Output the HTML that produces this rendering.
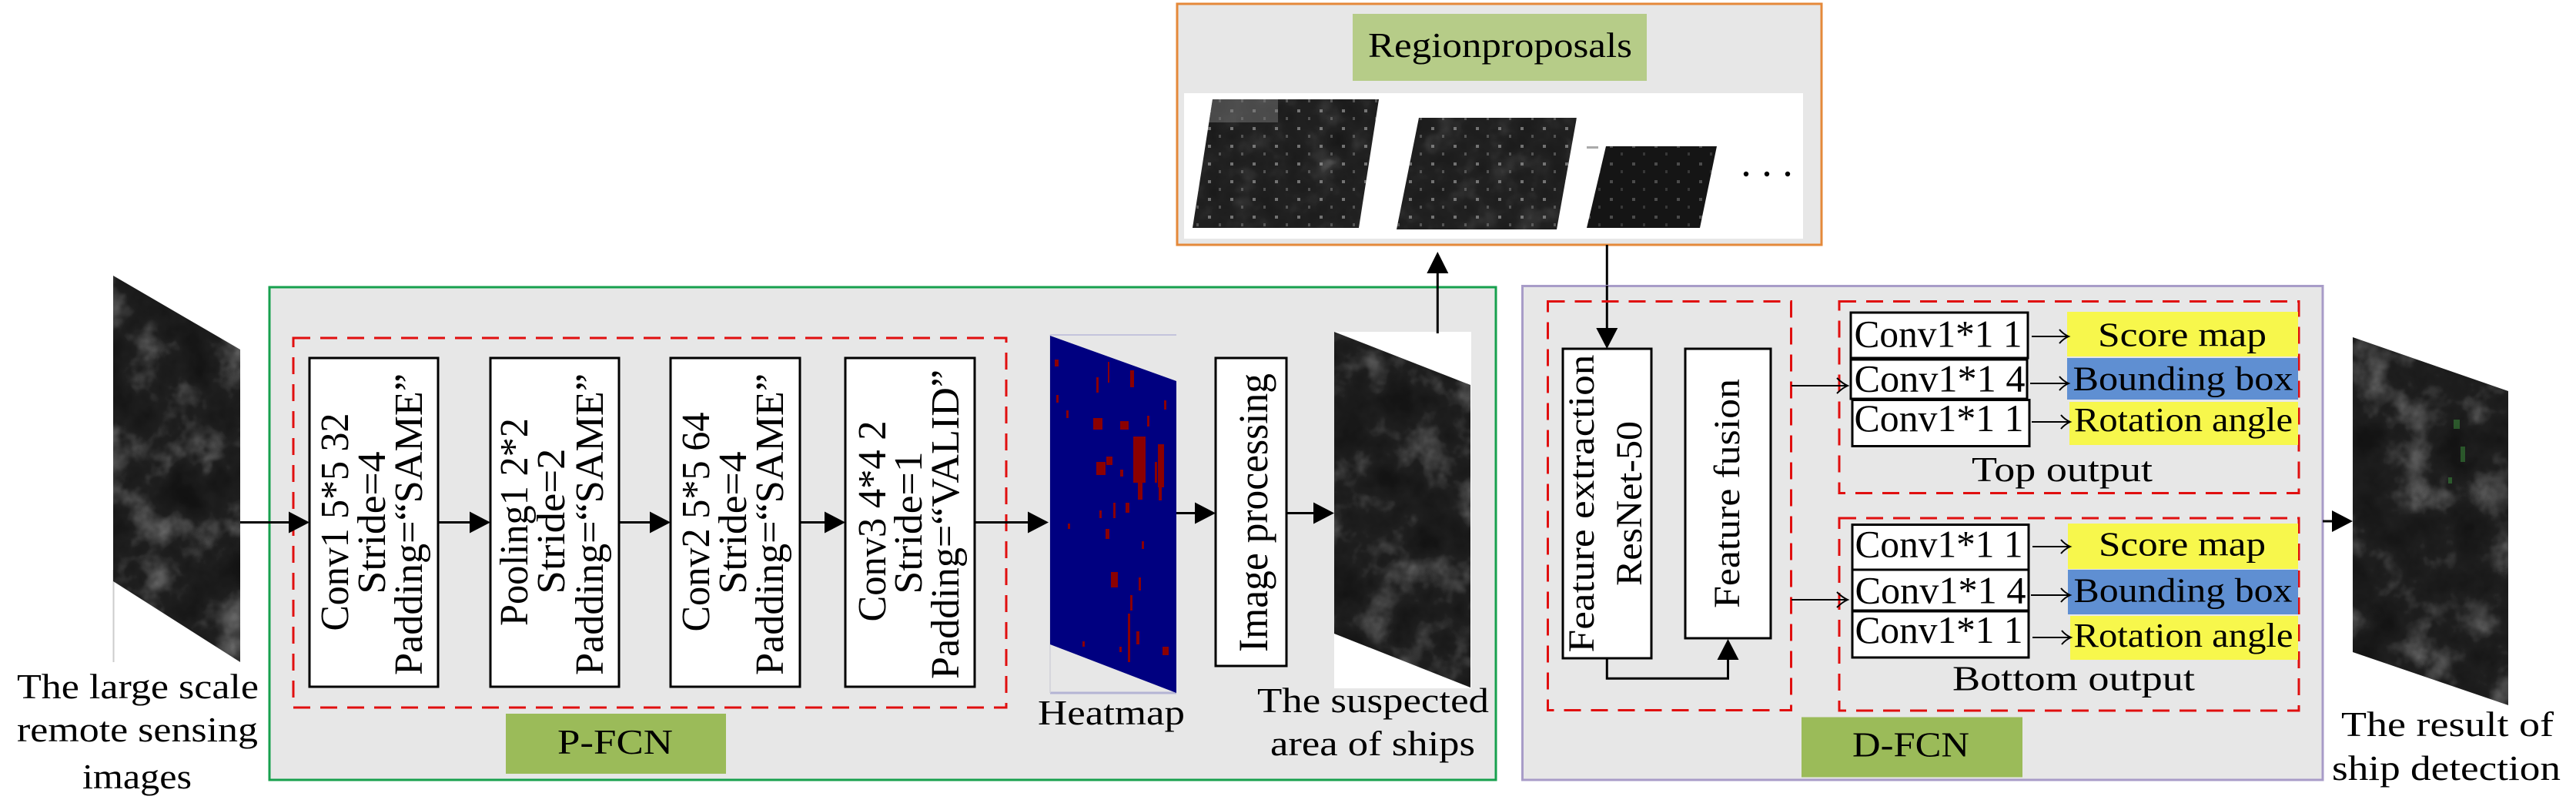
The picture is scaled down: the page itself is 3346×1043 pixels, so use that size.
<!DOCTYPE html>
<html><head><meta charset="utf-8"><style>
html,body{margin:0;padding:0;background:#fff;}
svg{display:block;}
text{font-family:"Liberation Serif",serif;fill:#000;}
</style></head><body>
<svg width="3346" height="1043" viewBox="0 0 3346 1043" xmlns="http://www.w3.org/2000/svg">
<defs>
<filter id="sat" x="0" y="0" width="1" height="1" color-interpolation-filters="sRGB">
<feTurbulence type="fractalNoise" baseFrequency="0.018" numOctaves="4" seed="7"/>
<feColorMatrix type="matrix" values="0.33 0.33 0.33 0 0  0.33 0.33 0.33 0 0  0.33 0.33 0.33 0 0  0 0 0 0 1"/>
<feComponentTransfer>
<feFuncR type="table" tableValues="0.04 0.06 0.08 0.12 0.36 0.66 0.88"/>
<feFuncG type="table" tableValues="0.04 0.06 0.08 0.12 0.36 0.66 0.88"/>
<feFuncB type="table" tableValues="0.04 0.06 0.08 0.12 0.36 0.66 0.88"/>
</feComponentTransfer>
</filter>
<filter id="sat2" x="0" y="0" width="1" height="1" color-interpolation-filters="sRGB">
<feTurbulence type="fractalNoise" baseFrequency="0.03" numOctaves="3" seed="3"/>
<feColorMatrix type="matrix" values="0.33 0.33 0.33 0 0  0.33 0.33 0.33 0 0  0.33 0.33 0.33 0 0  0 0 0 0 1"/>
<feComponentTransfer>
<feFuncR type="table" tableValues="0.07 0.09 0.11 0.13 0.2 0.45 0.7"/>
<feFuncG type="table" tableValues="0.07 0.09 0.11 0.13 0.2 0.45 0.7"/>
<feFuncB type="table" tableValues="0.07 0.09 0.11 0.13 0.2 0.45 0.7"/>
</feComponentTransfer>
</filter>
<pattern id="dots" x="0" y="0" width="29" height="23" patternUnits="userSpaceOnUse">
<rect x="3" y="4" width="4" height="4" fill="#aaa" opacity="0.6"/>
<rect x="17" y="14" width="3" height="4" fill="#888" opacity="0.5"/>
</pattern>
<clipPath id="cL"><polygon points="147,358 312,454 312,860 147,755"/></clipPath>
<clipPath id="cS"><polygon points="1733,431 1910,500 1910,893 1733,823"/></clipPath>
<clipPath id="cR"><polygon points="3056,438 3258,508 3258,916 3056,847"/></clipPath>
<clipPath id="c1"><polygon points="1575,129 1791,129 1765,296 1549,296"/></clipPath>
<clipPath id="c2"><polygon points="1843,153 2048,153 2022,298 1814,298"/></clipPath>
<clipPath id="c3"><polygon points="2086,190 2230,190 2208,296 2061,296"/></clipPath>
</defs>

<!-- Left input image -->
<line x1="147.5" y1="740" x2="147.5" y2="860" stroke="#ccc" stroke-width="2"/>
<rect x="147" y="358" width="166" height="502" filter="url(#sat)" clip-path="url(#cL)"/>
<text x="22" y="907" font-size="46" textLength="314" lengthAdjust="spacingAndGlyphs">The large scale</text>
<text x="22" y="963" font-size="46" textLength="313" lengthAdjust="spacingAndGlyphs">remote sensing</text>
<text x="107" y="1024" font-size="46" textLength="142" lengthAdjust="spacingAndGlyphs">images</text>

<!-- Region proposals -->
<rect x="1529" y="5" width="837" height="313" fill="#e7e7e7" stroke="#e5893a" stroke-width="3"/>
<rect x="1757" y="18" width="382" height="87" fill="#b6cc88"/>
<text x="1777" y="74" font-size="46" textLength="343" lengthAdjust="spacingAndGlyphs">Regionproposals</text>
<rect x="1538" y="121" width="804" height="189" fill="#fff"/>
<g clip-path="url(#c1)"><rect x="1549" y="129" width="242" height="167" filter="url(#sat2)"/><rect x="1549" y="129" width="242" height="167" fill="url(#dots)"/><rect x="1560" y="129" width="100" height="30" fill="#777" opacity="0.5"/></g>
<g clip-path="url(#c2)"><rect x="1814" y="153" width="234" height="145" filter="url(#sat2)"/><rect x="1814" y="153" width="234" height="145" fill="url(#dots)"/></g>
<g clip-path="url(#c3)"><rect x="2061" y="190" width="169" height="106" fill="#151515"/><rect x="2061" y="190" width="169" height="106" fill="url(#dots)" opacity="0.6"/></g>
<rect x="2061" y="190" width="15" height="3" fill="#aaa"/>
<circle cx="2268" cy="226" r="3.2" fill="#000"/>
<circle cx="2295" cy="226" r="3.2" fill="#000"/>
<circle cx="2322" cy="226" r="3.2" fill="#000"/>

<!-- P-FCN container -->
<rect x="350" y="373" width="1593" height="640" fill="#e7e7e7" stroke="#17a04e" stroke-width="3"/>
<rect x="381" y="439" width="926" height="480" fill="none" stroke="#e00f0f" stroke-width="3" stroke-dasharray="22 13"/>

<!-- Conv boxes -->
<g stroke="#000" stroke-width="3" fill="#fff">
<rect x="402" y="465" width="167" height="427"/>
<rect x="637" y="465" width="167" height="427"/>
<rect x="871" y="465" width="168" height="427"/>
<rect x="1098" y="465" width="168" height="427"/>
<rect x="1579" y="465" width="92" height="400"/>
</g>
<g font-size="52">
<text transform="translate(452,678) rotate(-90)" text-anchor="middle" textLength="283" lengthAdjust="spacingAndGlyphs">Conv1 5*5 32</text>
<text transform="translate(500,679) rotate(-90)" text-anchor="middle" textLength="185" lengthAdjust="spacingAndGlyphs">Stride=4</text>
<text transform="translate(548,681) rotate(-90)" text-anchor="middle" textLength="392" lengthAdjust="spacingAndGlyphs">Padding=“SAME”</text>

<text transform="translate(685,678) rotate(-90)" text-anchor="middle" textLength="270" lengthAdjust="spacingAndGlyphs">Pooling1 2*2</text>
<text transform="translate(733,677) rotate(-90)" text-anchor="middle" textLength="189" lengthAdjust="spacingAndGlyphs">Stride=2</text>
<text transform="translate(783,681) rotate(-90)" text-anchor="middle" textLength="392" lengthAdjust="spacingAndGlyphs">Padding=“SAME”</text>

<text transform="translate(921,678) rotate(-90)" text-anchor="middle" textLength="285" lengthAdjust="spacingAndGlyphs">Conv2 5*5 64</text>
<text transform="translate(969,679) rotate(-90)" text-anchor="middle" textLength="185" lengthAdjust="spacingAndGlyphs">Stride=4</text>
<text transform="translate(1017,681) rotate(-90)" text-anchor="middle" textLength="392" lengthAdjust="spacingAndGlyphs">Padding=“SAME”</text>

<text transform="translate(1150,677) rotate(-90)" text-anchor="middle" textLength="261" lengthAdjust="spacingAndGlyphs">Conv3 4*4 2</text>
<text transform="translate(1197,679) rotate(-90)" text-anchor="middle" textLength="185" lengthAdjust="spacingAndGlyphs">Stride=1</text>
<text transform="translate(1245,681) rotate(-90)" text-anchor="middle" textLength="402" lengthAdjust="spacingAndGlyphs">Padding=“VALID”</text>
</g>
<text transform="translate(1646,666) rotate(-90)" text-anchor="middle" font-size="54" textLength="362" lengthAdjust="spacingAndGlyphs">Image processing</text>

<!-- Heatmap -->
<line x1="1364" y1="435" x2="1528" y2="435" stroke="#c4c4dc" stroke-width="2"/>
<line x1="1364" y1="900" x2="1528" y2="900" stroke="#b4b4d4" stroke-width="3"/>
<line x1="1364" y1="435" x2="1364" y2="900" stroke="#d0d0d8" stroke-width="1.5"/>
<polygon points="1364,436 1528,495 1528,900 1364,837" fill="#000080"/>
<g fill="#8b0000">
<rect x="1472" y="567" width="16" height="60"/><rect x="1478" y="627" width="6" height="22"/>
<rect x="1504" y="577" width="8" height="56"/><rect x="1505" y="633" width="4" height="17"/>
<rect x="1443" y="743" width="9" height="20"/><rect x="1468" y="773" width="3" height="20"/>
<rect x="1370" y="467" width="5" height="9"/><rect x="1424" y="490" width="3" height="20"/>
<rect x="1439" y="470" width="2" height="27"/><rect x="1468" y="481" width="5" height="22"/>
<rect x="1420" y="543" width="12" height="15"/><rect x="1455" y="547" width="11" height="11"/>
<rect x="1424" y="600" width="12" height="17"/><rect x="1437" y="593" width="8" height="11"/>
<rect x="1428" y="663" width="3" height="10"/><rect x="1436" y="687" width="5" height="13"/>
<rect x="1483" y="703" width="3" height="10"/><rect x="1462" y="653" width="5" height="13"/>
<rect x="1387" y="680" width="3" height="7"/><rect x="1465" y="797" width="3" height="63"/>
<rect x="1476" y="820" width="4" height="17"/><rect x="1510" y="840" width="8" height="11"/>
<rect x="1454" y="840" width="3" height="7"/><rect x="1500" y="600" width="3" height="27"/>
<rect x="1446" y="653" width="3" height="20"/><rect x="1372" y="513" width="3" height="10"/>
<rect x="1385" y="533" width="3" height="10"/><rect x="1479" y="750" width="3" height="17"/>
<rect x="1406" y="833" width="3" height="7"/><rect x="1490" y="540" width="3" height="14"/>
<rect x="1455" y="610" width="4" height="9"/><rect x="1512" y="520" width="3" height="12"/>
</g>
<text x="1348" y="941" font-size="46" textLength="191" lengthAdjust="spacingAndGlyphs">Heatmap</text>

<!-- Suspected area -->
<rect x="1733" y="431" width="178" height="463" fill="#fff"/>
<rect x="1733" y="431" width="178" height="463" filter="url(#sat)" clip-path="url(#cS)"/>
<text x="1633" y="925" font-size="46" textLength="301" lengthAdjust="spacingAndGlyphs">The suspected</text>
<text x="1650" y="981" font-size="46" textLength="266" lengthAdjust="spacingAndGlyphs">area of ships</text>

<rect x="657" y="927" width="286" height="78" fill="#9bbb59"/>
<text x="724" y="979" font-size="46" textLength="150" lengthAdjust="spacingAndGlyphs">P-FCN</text>

<!-- P-FCN arrows -->
<g stroke="#000" stroke-width="3" fill="none">
<line x1="312" y1="678.5" x2="380" y2="678.5"/>
<line x1="569" y1="678.5" x2="612" y2="678.5"/>
<line x1="804" y1="678.5" x2="846" y2="678.5"/>
<line x1="1039" y1="678.5" x2="1073" y2="678.5"/>
<line x1="1266" y1="678.5" x2="1336" y2="678.5"/>
<line x1="1528" y1="666.5" x2="1554" y2="666.5"/>
<line x1="1671" y1="666.5" x2="1708" y2="666.5"/>
<line x1="1867.3" y1="433" x2="1867.3" y2="352"/>
<line x1="2087.3" y1="318" x2="2087.3" y2="428"/>
</g>
<g fill="#000">
<polygon points="375,664.5 402,678.5 375,692.5"/>
<polygon points="610,664.5 637,678.5 610,692.5"/>
<polygon points="844,664.5 871,678.5 844,692.5"/>
<polygon points="1071,664.5 1098,678.5 1071,692.5"/>
<polygon points="1335,664.5 1362,678.5 1335,692.5"/>
<polygon points="1552,652.5 1579,666.5 1552,680.5"/>
<polygon points="1706,652.5 1733,666.5 1706,680.5"/>
<polygon points="1853.3,355 1867.3,327 1881.3,355"/>
</g>

<!-- D-FCN container -->
<rect x="1977.5" y="371.5" width="1039.5" height="641.5" fill="#e7e7e7" stroke="#a89cc8" stroke-width="3"/>
<line x1="2087.3" y1="371" x2="2087.3" y2="428" stroke="#000" stroke-width="3"/>
<rect x="2010.5" y="391.5" width="316" height="531" fill="none" stroke="#e00f0f" stroke-width="3" stroke-dasharray="22 13"/>
<rect x="2389" y="391.5" width="597" height="249" fill="none" stroke="#e00f0f" stroke-width="3" stroke-dasharray="22 13"/>
<rect x="2389" y="673" width="597" height="250" fill="none" stroke="#e00f0f" stroke-width="3" stroke-dasharray="22 13"/>

<g stroke="#000" stroke-width="3" fill="#fff">
<rect x="2030" y="453" width="115" height="402"/>
<rect x="2189" y="453" width="111" height="376"/>
</g>
<path d="M2087.3 855.5 V881.3 H2244.5 V855" stroke="#000" stroke-width="3" fill="none"/>
<polygon points="2073.3,426 2087.3,453 2101.3,426" fill="#000"/>
<polygon points="2230.5,857 2244.5,830 2258.5,857" fill="#000"/>
<g font-size="48">
<text transform="translate(2070,654) rotate(-90)" text-anchor="middle" textLength="387" lengthAdjust="spacingAndGlyphs">Feature extraction</text>
<text transform="translate(2132,654) rotate(-90)" text-anchor="middle" textLength="214" lengthAdjust="spacingAndGlyphs">ResNet-50</text>
<text transform="translate(2259,641) rotate(-90)" text-anchor="middle" textLength="298" lengthAdjust="spacingAndGlyphs">Feature fusion</text>
</g>

<!-- thin arrows into outputs -->
<g stroke="#000" stroke-width="2" fill="none">
<line x1="2327" y1="501" x2="2399" y2="501"/>
<path d="M2386 491 Q2393 498 2400 501 Q2393 504 2386 511"/>
<line x1="2327" y1="779" x2="2399" y2="779"/>
<path d="M2386 769 Q2393 776 2400 779 Q2393 782 2386 789"/>
</g>

<!-- Output label bars -->
<rect x="2685" y="405" width="300" height="58" fill="#f7f74c"/>
<rect x="2685" y="465" width="300" height="54" fill="#5f8fd2"/>
<rect x="2688" y="522" width="297" height="56" fill="#f7f74c"/>
<rect x="2686" y="680" width="299" height="59" fill="#f7f74c"/>
<rect x="2686" y="740" width="299" height="58" fill="#5f8fd2"/>
<rect x="2689" y="800" width="296" height="57" fill="#f7f74c"/>

<g stroke="#000" stroke-width="3" fill="#fff">
<rect x="2404" y="406" width="230" height="59"/>
<rect x="2404" y="467" width="229" height="51"/>
<rect x="2406" y="519.5" width="230" height="60"/>
<rect x="2406" y="681.5" width="229" height="58.5"/>
<rect x="2406" y="740" width="229" height="53"/>
<rect x="2406" y="794" width="229" height="60"/>
</g>
<g font-size="50">
<text x="2408.5" y="450.7" textLength="218" lengthAdjust="spacingAndGlyphs">Conv1*1 1</text>
<text x="2408.5" y="508.3" textLength="222" lengthAdjust="spacingAndGlyphs">Conv1*1 4</text>
<text x="2408.5" y="560" textLength="220" lengthAdjust="spacingAndGlyphs">Conv1*1 1</text>
<text x="2409.5" y="723.3" textLength="218" lengthAdjust="spacingAndGlyphs">Conv1*1 1</text>
<text x="2409.5" y="783.3" textLength="222" lengthAdjust="spacingAndGlyphs">Conv1*1 4</text>
<text x="2409.5" y="835" textLength="218" lengthAdjust="spacingAndGlyphs">Conv1*1 1</text>
</g>
<g stroke="#000" stroke-width="2" fill="none">
<line x1="2639" y1="437" x2="2686" y2="437"/><path d="M2675 428 Q2680 434 2687 437 Q2680 440 2675 446"/>
<line x1="2637" y1="498" x2="2686" y2="498"/><path d="M2675 489 Q2680 495 2687 498 Q2680 501 2675 507"/>
<line x1="2639" y1="548" x2="2688" y2="548"/><path d="M2677 539 Q2682 545 2689 548 Q2682 551 2677 557"/>
<line x1="2640" y1="710" x2="2688" y2="710"/><path d="M2677 701 Q2682 707 2689 710 Q2682 713 2677 719"/>
<line x1="2638" y1="773" x2="2688" y2="773"/><path d="M2677 764 Q2682 770 2689 773 Q2682 776 2677 782"/>
<line x1="2640" y1="828" x2="2689" y2="828"/><path d="M2678 819 Q2683 825 2690 828 Q2683 831 2678 837"/>
</g>
<g font-size="44">
<text x="2725" y="449.3" textLength="219" lengthAdjust="spacingAndGlyphs">Score map</text>
<text x="2692.5" y="506.7" textLength="286" lengthAdjust="spacingAndGlyphs">Bounding box</text>
<text x="2694" y="560" textLength="284" lengthAdjust="spacingAndGlyphs">Rotation angle</text>
<text x="2726" y="721.7" textLength="217" lengthAdjust="spacingAndGlyphs">Score map</text>
<text x="2693.5" y="781.7" textLength="284" lengthAdjust="spacingAndGlyphs">Bounding box</text>
<text x="2693.5" y="840" textLength="285" lengthAdjust="spacingAndGlyphs">Rotation angle</text>
</g>
<g font-size="46">
<text x="2561" y="625" textLength="235" lengthAdjust="spacingAndGlyphs">Top output</text>
<text x="2536" y="896.7" textLength="315" lengthAdjust="spacingAndGlyphs">Bottom output</text>
</g>

<rect x="2340" y="931.5" width="287" height="78" fill="#9bbb59"/>
<text x="2406" y="982.7" font-size="46" textLength="152" lengthAdjust="spacingAndGlyphs">D-FCN</text>

<!-- Result arrow + image -->
<line x1="3017" y1="677" x2="3031" y2="677" stroke="#000" stroke-width="3"/>
<polygon points="3029,663 3056,677 3029,691" fill="#000"/>
<rect x="3056" y="438" width="203" height="478" filter="url(#sat)" clip-path="url(#cR)"/>
<g fill="#3a8a3a" opacity="0.55">
<rect x="3187" y="545" width="8" height="12"/><rect x="3196" y="580" width="6" height="20"/><rect x="3180" y="620" width="5" height="8"/>
</g>
<text x="3041" y="956" font-size="46" textLength="276" lengthAdjust="spacingAndGlyphs">The result of</text>
<text x="3029" y="1013" font-size="46" textLength="297" lengthAdjust="spacingAndGlyphs">ship detection</text>
</svg>
</body></html>
